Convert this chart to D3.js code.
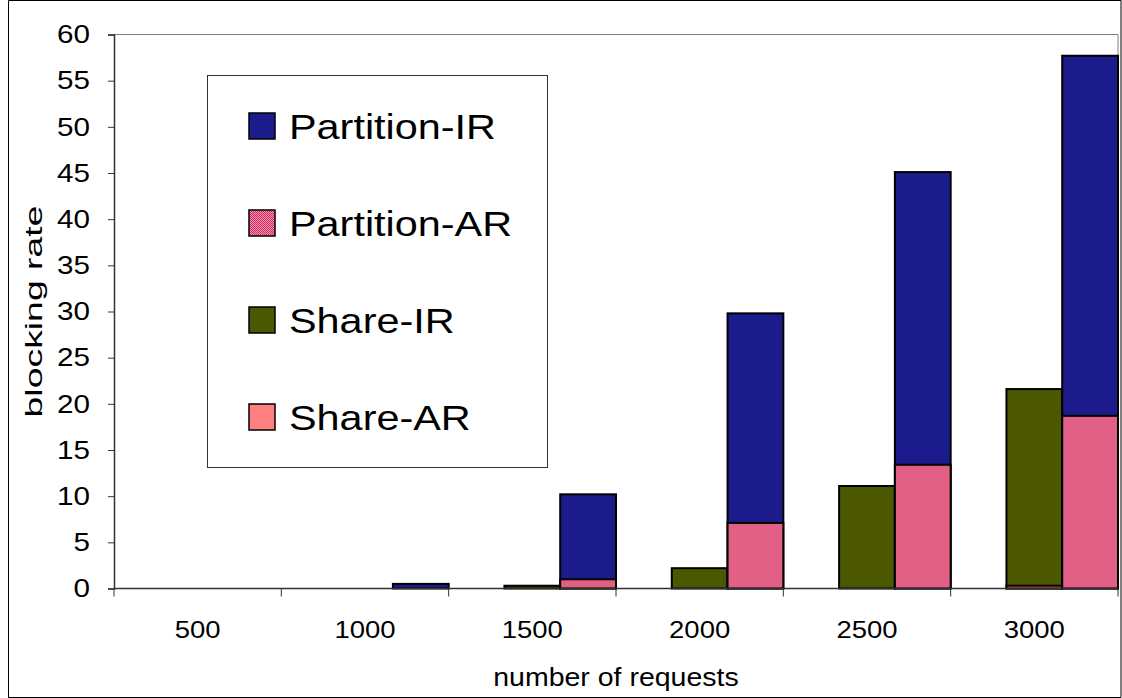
<!DOCTYPE html>
<html>
<head>
<meta charset="utf-8">
<script src="https://cdn.jsdelivr.net/npm/d3@7"></script>
<style>
  html, body { margin: 0; padding: 0; background: #fff; overflow: hidden; }
  svg { display: block; }
  text { font-family: "Liberation Sans", Arial, sans-serif; fill: #000; }
</style>
</head>
<body>
<svg id="chart" width="1122" height="698"></svg>
<script>
// values
const categories = ["500", "1000", "1500", "2000", "2500", "3000"];
const partitionIR = [0, 0.5, 10.2, 29.8, 45.1, 57.7];
const partitionAR = [0, 0, 1.0, 7.1, 13.4, 18.7];
const shareIR = [0, 0, 0.3, 2.2, 11.1, 21.6];
const shareAR = [0, 0, 0, 0, 0, 0.3];
const yTicks = [0, 5, 10, 15, 20, 25, 30, 35, 40, 45, 50, 55, 60];
const legendNames = ["Partition-IR", "Partition-AR", "Share-IR", "Share-AR"];

const width = 1122, height = 698;
const margin = { top: 34.5, right: 4, bottom: 109.5, left: 114 };
const innerWidth = width - margin.left - margin.right;
const innerHeight = height - margin.top - margin.bottom;

const svg = d3.select("#chart");

// checker pattern for Partition-AR
const defs = svg.append("defs");
const pat = defs.append("pattern")
    .attr("id", "hatch")
    .attr("width", 2).attr("height", 2)
    .attr("patternUnits", "userSpaceOnUse");
pat.append("rect").attr("width", 2).attr("height", 2).attr("fill", "#ff94b0");
pat.append("rect").attr("width", 1).attr("height", 1).attr("fill", "#c42a5c");
pat.append("rect").attr("x", 1).attr("y", 1).attr("width", 1).attr("height", 1).attr("fill", "#c42a5c");

const fills = {
    "Partition-IR": "#1b1b8c",
    "Partition-AR": "url(#hatch)",
    "Share-IR": "#4c5800",
    "Share-AR": "#ff8080"
};

// outer frame
svg.append("path")
    .attr("d", `M8.5,0.5H${width - 1}V${height - 0.5}H8.5Z`)
    .attr("fill", "none").attr("stroke", "#000");

const g = svg.append("g").attr("transform", `translate(${margin.left},${margin.top})`);

const x = d3.scaleBand().domain(categories).range([0, innerWidth]);
const y = d3.scaleLinear().domain([0, 60]).range([innerHeight, 0]);
const bw = x.bandwidth() / 3;

// plot area border
g.append("path")
    .attr("d", `M0,0H${innerWidth}V${innerHeight}`)
    .attr("fill", "none").attr("stroke", "#808080");

// the original lettering is a bit wider than Arial: widen about the anchor point
function stretch(sel, k) {
    sel.each(function () {
        const x0 = +d3.select(this).attr("x") || 0;
        d3.select(this).attr("transform", `translate(${x0},0) scale(${k},1) translate(${-x0},0)`);
    });
}

function drawBars(values, name, offset) {
    g.selectAll(null)
        .data(values.map((v, i) => ({ c: categories[i], v })).filter(d => d.v > 0))
        .join("rect")
        .attr("x", d => x(d.c) + offset)
        .attr("y", d => y(d.v))
        .attr("width", bw)
        .attr("height", d => y(0) - y(d.v))
        .attr("fill", fills[name])
        .attr("stroke", "#000")
        .attr("stroke-width", 2);
}

drawBars(shareIR, "Share-IR", bw);
drawBars(shareAR, "Share-AR", bw);
drawBars(partitionIR, "Partition-IR", 2 * bw);
drawBars(partitionAR, "Partition-AR", 2 * bw);

// y axis
const yAxis = g.append("g")
    .call(d3.axisLeft(y).tickValues(yTicks).tickSize(6).tickPadding(18));
yAxis.select(".domain").attr("stroke", "#333").attr("stroke-width", 1.5);
yAxis.selectAll(".tick line").attr("stroke", "#333");
yAxis.selectAll("text")
    .attr("font-size", 26)
    .attr("font-family", "Liberation Sans, Arial, sans-serif")
    .call(stretch, 1.14);

// x axis, ticks on band edges
const xAxis = g.append("g").attr("transform", `translate(0,${innerHeight})`);
xAxis.append("line")
    .attr("x1", 0).attr("x2", innerWidth)
    .attr("stroke", "#333").attr("stroke-width", 1.5);
xAxis.selectAll(".edge")
    .data(categories.concat(["end"]))
    .join("line")
    .attr("x1", (d, i) => i * x.bandwidth()).attr("x2", (d, i) => i * x.bandwidth())
    .attr("y1", 0).attr("y2", 8)
    .attr("stroke", "#333");
xAxis.selectAll(".lbl")
    .data(categories)
    .join("text")
    .attr("x", d => x(d) + x.bandwidth() / 2)
    .attr("y", 50)
    .attr("text-anchor", "middle")
    .attr("font-size", 23.5)
    .text(d => d)
    .call(stretch, 1.17);

// axis titles
svg.append("text")
    .attr("x", margin.left + innerWidth / 2)
    .attr("y", 686)
    .attr("text-anchor", "middle")
    .attr("font-size", 25)
    .text("number of requests")
    .call(stretch, 1.14);

const yTitle = svg.append("text")
    .attr("text-anchor", "middle")
    .attr("font-size", 23)
    .text("blocking rate");
const yTitleLen = yTitle.node().getComputedTextLength();
yTitle.attr("transform", `translate(42,${margin.top + innerHeight / 2}) rotate(-90) scale(${212 / yTitleLen},1)`);

// legend
const legend = svg.append("g").attr("transform", "translate(207,75)");
legend.append("rect")
    .attr("x", 0.5).attr("y", 0.5)
    .attr("width", 340).attr("height", 392)
    .attr("fill", "#fff").attr("stroke", "#333");
const rows = legend.selectAll(".row")
    .data(legendNames)
    .join("g")
    .attr("transform", (d, i) => `translate(0,${51 + i * 97})`);
rows.append("rect")
    .attr("x", 42).attr("y", -13)
    .attr("width", 26).attr("height", 26)
    .attr("fill", d => fills[d])
    .attr("stroke", "#000").attr("stroke-width", 1.5);
rows.append("text")
    .attr("x", 82).attr("y", 13)
    .attr("font-size", 36)
    .text(d => d)
    .call(stretch, 1.15);
</script>
</body>
</html>
